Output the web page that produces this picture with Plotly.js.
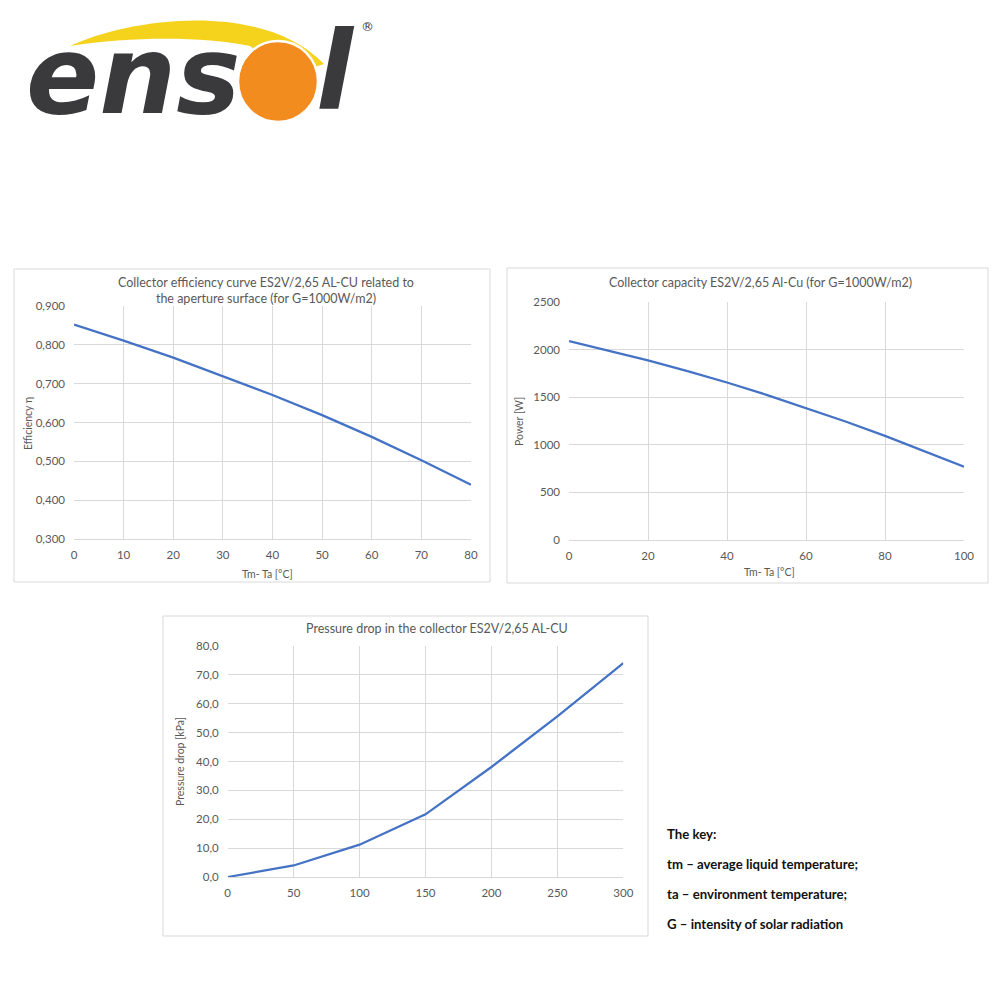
<!DOCTYPE html>
<html>
<head>
<meta charset="utf-8">
<script src="https://cdn.plot.ly/plotly-3.0.1.min.js"></script>
<style>html,body{margin:0;padding:0;background:#fff}#chart{width:1000px;height:1000px}</style>
</head>
<body>
<div id="chart"></div>
<script>
// ---- Data ----
const effX = [0, 10, 20, 30, 40, 50, 60, 70, 80];
const effY = [0.852, 0.811, 0.767, 0.720, 0.671, 0.619, 0.563, 0.503, 0.440];

const powX = [0, 10, 20, 30, 40, 50, 60, 70, 80, 90, 100];
const powY = [2090, 1990, 1886, 1773, 1654, 1525, 1388, 1245, 1094, 935, 770];

const presX = [0, 50, 100, 150, 200, 250, 300];
const presY = [0.0, 4.0, 11.2, 21.7, 38.1, 55.6, 74.1];

const titles = {
  eff: 'Collector efficiency curve ES2V/2,65 AL-CU related to<br>the aperture surface (for G=1000W/m2)',
  pow: 'Collector capacity ES2V/2,65 Al-Cu (for G=1000W/m2)',
  pres: 'Pressure drop in the collector ES2V/2,65 AL-CU'
};
const keyLines = ['The key:', 'tm – average liquid temperature;', 'ta – environment temperature;', 'G – intensity of solar radiation'];

// ---- helpers (pixel -> paper) ----
const X = px => px / 1000;
const Y = py => 1 - py / 1000;
const P = (x, y) => X(x) + ',' + Y(y);

const FONT = 'Lato, "Open Sans", sans-serif';
const GRID = '#d9d9d9';
const TICK = {family: FONT, size: 11.5, color: '#595959'};
const LINE = {color: '#4472C4', width: 2.25};

function xax(domain, range, dtick) {
  return {domain: domain, range: range, dtick: dtick, showgrid: true, gridcolor: GRID, gridwidth: 1,
    zeroline: false, showline: true, linecolor: GRID, ticks: '', tickfont: TICK,
    ticklabelstandoff: 5, fixedrange: true};
}
function yax(domain, range, dtick, fmt) {
  return {domain: domain, range: range, dtick: dtick, tickformat: fmt, showgrid: true, gridcolor: GRID,
    gridwidth: 1, zeroline: false, showline: false, ticks: '', tickfont: TICK,
    ticklabelstandoff: 8, fixedrange: true};
}

const data = [
  {x: effX, y: effY, type: 'scatter', mode: 'lines', line: LINE, xaxis: 'x', yaxis: 'y', hoverinfo: 'skip'},
  {x: powX, y: powY, type: 'scatter', mode: 'lines', line: LINE, xaxis: 'x2', yaxis: 'y2', hoverinfo: 'skip'},
  {x: presX, y: presY, type: 'scatter', mode: 'lines', line: LINE, xaxis: 'x3', yaxis: 'y3', hoverinfo: 'skip'}
];

const txt = (x, y, text, opts) => Object.assign({xref: 'paper', yref: 'paper', x: X(x), y: Y(y), text: text,
  showarrow: false, xanchor: 'center', yanchor: 'middle', font: {family: FONT, size: 10.5, color: '#595959'}}, opts || {});

const annotations = [
  txt(266, 290, titles.eff, {font: {family: FONT, size: 12.5, color: '#595959'}}),
  txt(760, 282, titles.pow, {font: {family: FONT, size: 12.5, color: '#595959'}}),
  txt(437, 628, titles.pres, {font: {family: FONT, size: 12.5, color: '#595959'}}),
  txt(267, 574, 'Tm- Ta [°C]'),
  txt(769, 572, 'Tm- Ta [°C]'),
  txt(28, 424, 'Efficiency η', {textangle: -90}),
  txt(519, 422, 'Power [W]', {textangle: -90}),
  txt(180, 762, 'Pressure drop [kPa]', {textangle: -90})
];
keyLines.forEach((t, i) => {
  annotations.push(txt(665, 834 + i * 30, t, {xanchor: 'left', font: {family: FONT, size: 13.2, color: '#111', weight: 'bold'}}));
});

// Logo text
annotations.push({xref: 'paper', yref: 'paper', x: X(24), y: Y(76), text: 'ens', showarrow: false,
  xanchor: 'left', yanchor: 'middle', font: {family: 'DejaVu Sans', size: 108, color: '#3a3a3c', weight: 'bold', style: 'italic'}});
annotations.push({xref: 'paper', yref: 'paper', x: X(314), y: Y(72), text: 'l', showarrow: false,
  xanchor: 'left', yanchor: 'middle', font: {family: 'DejaVu Sans', size: 108, color: '#3a3a3c', weight: 'bold', style: 'italic'}});
annotations.push({xref: 'paper', yref: 'paper', x: X(367), y: Y(26), text: '®', showarrow: false,
  xanchor: 'center', yanchor: 'middle', font: {family: 'DejaVu Sans', size: 13, color: '#3a3a3c'}});

const box = (x0, y0, x1, y1) => ({type: 'rect', xref: 'paper', yref: 'paper', x0: X(x0), x1: X(x1), y0: Y(y0), y1: Y(y1),
  line: {color: GRID, width: 1}, fillcolor: 'rgba(0,0,0,0)', layer: 'below'});

const shapes = [
  box(14, 269, 490, 582),
  box(507, 268, 988, 583),
  box(163, 616, 648, 936),
  // swoosh (wraps over the sun)
  {type: 'path', xref: 'paper', yref: 'paper', layer: 'above',
   path: 'M' + P(70, 46) + ' C' + P(130, 18) + ' ' + P(262, 0) + ' ' + P(324, 64) +
         ' L' + P(290, 75) + ' L' + P(250, 46) + ' C' + P(200, 36) + ' ' + P(130, 37) + ' ' + P(70, 46) + ' Z',
   fillcolor: '#f5d21b', line: {width: 0}},
  // sun circle
  {type: 'circle', xref: 'paper', yref: 'paper', layer: 'above', x0: X(238), x1: X(318), y0: Y(122), y1: Y(41),
   fillcolor: '#f28c1f', line: {color: '#ffffff', width: 2.5}}
];

const layout = {
  width: 1000, height: 1000, margin: {l: 0, r: 0, t: 0, b: 0},
  paper_bgcolor: '#ffffff', plot_bgcolor: 'rgba(0,0,0,0)',
  showlegend: false, separators: ', ',
  font: {family: FONT, color: '#595959'},
  xaxis: xax([0.074, 0.471], [0, 80], 10),
  yaxis: yax([0.461, 0.694], [0.3, 0.9], 0.1, '.3f'),
  xaxis2: Object.assign(xax([0.569, 0.964], [0, 100], 20), {anchor: 'y2'}),
  yaxis2: Object.assign(yax([0.460, 0.698], [0, 2500], 500, 'd'), {anchor: 'x2'}),
  xaxis3: Object.assign(xax([0.2277, 0.6233], [0, 300], 50), {anchor: 'y3'}),
  yaxis3: Object.assign(yax([0.123, 0.354], [0, 80], 10, '.1f'), {anchor: 'x3'}),
  annotations: annotations,
  shapes: shapes
};
layout.xaxis.anchor = 'y';
layout.yaxis.anchor = 'x';

Plotly.newPlot('chart', data, layout, {staticPlot: true, displayModeBar: false});
</script>
</body>
</html>
